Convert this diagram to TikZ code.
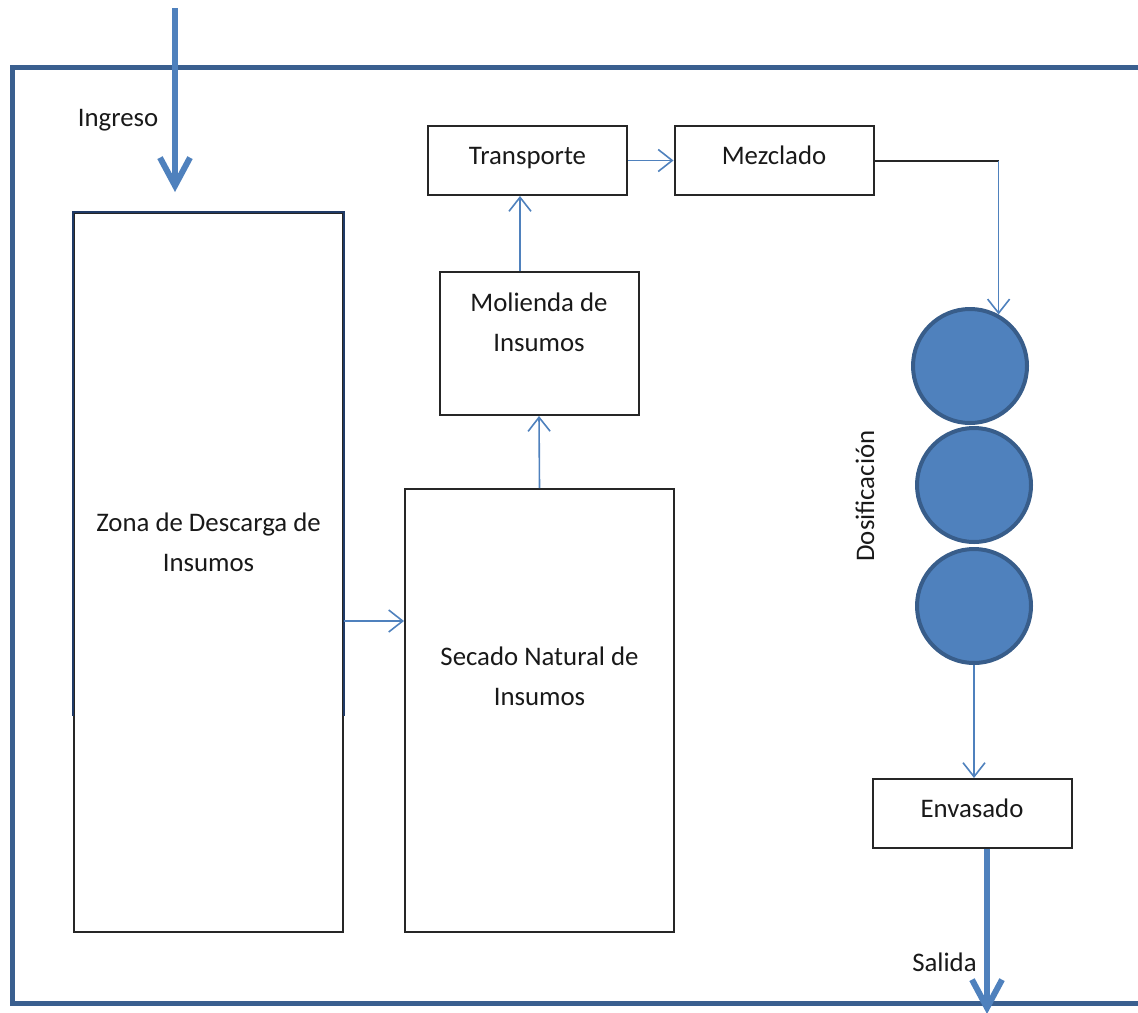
\documentclass[tikz,border=0pt]{standalone}
\usepackage{fontspec}
\setmainfont{Carlito}
\usetikzlibrary{arrows.meta}
\definecolor{flowblue}{HTML}{4F81BD}
\definecolor{frameblue}{HTML}{3A5F8F}
\definecolor{rimblue}{HTML}{385D8A}
\definecolor{navyedge}{HTML}{1F3A66}

\begin{document}
\begin{tikzpicture}[x=0.5pt,y=-0.5pt,
  box/.style={draw=black!85,line width=1pt,minimum width=99.5pt,minimum height=34.5pt,inner sep=0pt},
  lbl/.style={font=\fontsize{13.4}{20}\selectfont,align=center,text=black!90},
  boxlbl/.style={lbl,text height=9pt,text depth=5.5pt},
  flow/.style={draw=flowblue,line width=0.8pt,-{Straight Barb[length=7pt,width=11pt]}},
  bigflow/.style={draw=flowblue,line width=3pt,-{Straight Barb[length=14pt,width=15pt]}},
  dose/.style={circle,fill=flowblue,draw=rimblue,line width=2pt,minimum size=57pt,inner sep=0pt}]
  \useasboundingbox (0,0) rectangle (1138,1012);
  \clip (0,0) rectangle (1138,1012);

  % outer frame (open on the right)
  \draw[frameblue,line width=2.5pt] (1150,67) -- (12,67) -- (12,1003) -- (1150,1003);

  % boxes
  \node[box,minimum width=134.5pt,minimum height=359.5pt] (zona) at (208.5,572.5) {};
  \draw[navyedge,line width=1pt] ([yshift=108.5pt]zona.south west) -- (zona.north west)
    -- (zona.north east) -- ([yshift=108.5pt]zona.south east);
  \node[box,minimum width=134.5pt,minimum height=221.5pt] (secado) at (539.5,710.5) {};
  \node[box,minimum height=71.5pt] (molienda) at (539,343.5) {};
  \node[box,boxlbl] (transporte) at (527.5,160.5) {Transporte};
  \node[box,boxlbl] (mezclado) at (774,160.5) {Mezclado};
  \node[box,boxlbl] (envasado) at (972,813.5) {Envasado};

  \node[lbl] at (208.5,542) {Zona de Descarga de\\Insumos};
  \node[lbl] at (539.5,676) {Secado Natural de\\Insumos};
  \node[lbl] at (539,322) {Molienda de\\Insumos};

  % dosificacion
  \node[dose] (d1) at (970,366) {};
  \node[dose] (d2) at (974,485) {};
  \node[dose] (d3) at (974,606) {};
  \node[lbl,rotate=90] at (865,496) {Dosificación};

  % flows
  \coordinate (inTop) at (175,8);
  \coordinate (inEnd) at (175,192);
  \draw[bigflow] (inTop) -- (inEnd);
  \node[lbl] at (118,120) {Ingreso};

  \draw[flow] ([yshift=-24.25pt]zona.east) -- ([yshift=-24.25pt]zona.east -| secado.west);
  \draw[flow] (secado.north) -- (molienda.south);
  \draw[flow] ([xshift=-9.5pt]molienda.north) -- ([xshift=-9.5pt]molienda.north |- transporte.south);
  \draw[flow] (transporte.east) -- (mezclado.west);
  \coordinate (turn) at (d1.61 |- mezclado.east);
  \draw[black!85,line width=1pt] (mezclado.east) -- (turn);
  \draw[flow] (turn) -- (d1.61);
  \draw[flow] (d3.south) -- (d3.south |- envasado.north);

  \coordinate (out) at (987,1014);
  \draw[bigflow] ([xshift=7.5pt]envasado.south) -- (out);
  \node[lbl] at (944.5,962) {Salida};
\end{tikzpicture}
\end{document}
